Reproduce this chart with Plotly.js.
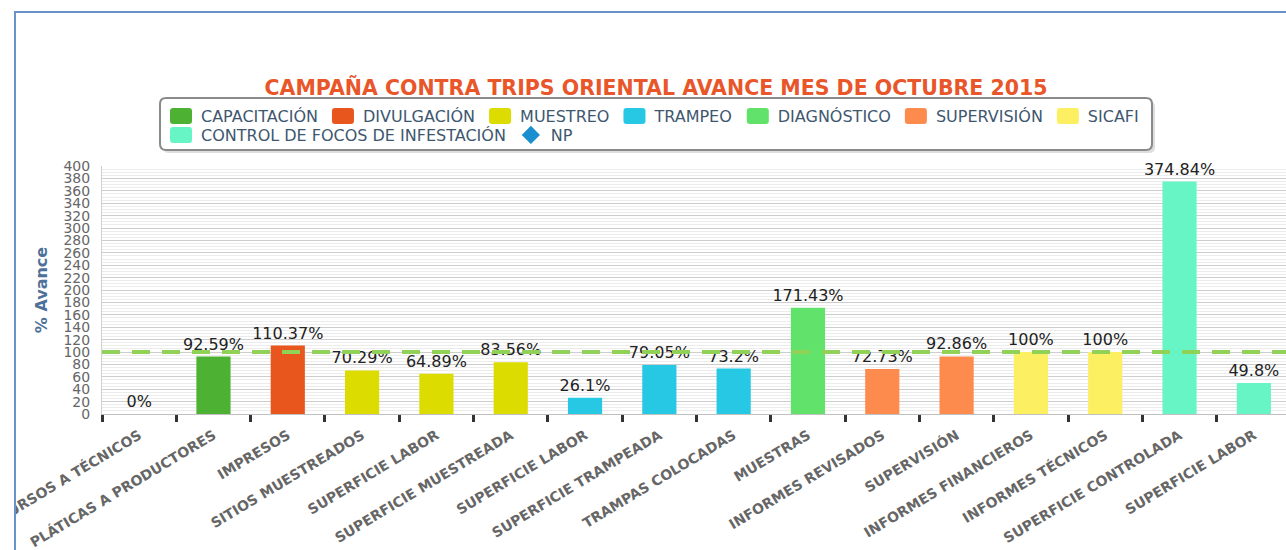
<!DOCTYPE html>
<html>
<head>
<meta charset="utf-8">
<script src="https://cdn.plot.ly/plotly-3.0.1.min.js"></script>
<style>
html, body { margin:0; padding:0; background:#fff; overflow:hidden; width:1286px; height:550px; }
#frame { position:absolute; left:14px; top:11px; width:1300px; height:560px; border-left:2px solid #6a93c8; border-top:2px solid #6a93c8; overflow:hidden; }
#chart { position:absolute; left:0; top:0; width:1280px; height:537px; }
#chart .legendpoints path:not(.scatterpts) { d: path('M-8,-8H8Q11,-8 11,-5V5Q11,8 8,8H-8Q-11,8 -11,5V-5Q-11,-8 -8,-8Z') !important; }
</style>
</head>
<body>
<div id="frame"><div id="chart"></div></div>
<script>
// ---- data ----
const categories = [
  "CURSOS A TÉCNICOS", "PLÁTICAS A PRODUCTORES", "IMPRESOS", "SITIOS MUESTREADOS",
  "SUPERFICIE LABOR", "SUPERFICIE MUESTREADA", "SUPERFICIE LABOR", "SUPERFICIE TRAMPEADA",
  "TRAMPAS COLOCADAS", "MUESTRAS", "INFORMES REVISADOS", "SUPERVISIÓN",
  "INFORMES FINANCIEROS", "INFORMES TÉCNICOS", "SUPERFICIE CONTROLADA", "SUPERFICIE LABOR"
];
const seriesNames = ["CAPACITACIÓN", "DIVULGACIÓN", "MUESTREO", "TRAMPEO", "DIAGNÓSTICO", "SUPERVISIÓN", "SICAFI", "CONTROL DE FOCOS DE INFESTACIÓN"];
const seriesColors = ["#4db234", "#e9561d", "#dcdc00", "#27c8e4", "#61e26b", "#fd8b4e", "#fcef61", "#68f5c5"];
// category index of each series' bars
const seriesCats = [[0, 1], [2], [3, 4, 5], [6, 7, 8], [9], [10, 11], [12, 13], [14, 15]];
const seriesValues = [
  [0, 92.59],
  [110.37],
  [70.29, 64.89, 83.56],
  [26.1, 79.05, 73.2],
  [171.43],
  [72.73, 92.86],
  [100, 100],
  [374.84, 49.8]
];
// legend row of each series (reference wraps after SICAFI)
const seriesLegendRow = ["legend", "legend", "legend", "legend", "legend", "legend", "legend", "legend2"];
const npName = "NP";
const npTarget = 100;
const yTicks = [0,20,40,60,80,100,120,140,160,180,200,220,240,260,280,300,320,340,360,380,400];

// ---- geometry helpers (pixels in the chart div) ----
const W = 1280, H = 537;
const M = { l: 86, r: 5, t: 153, b: 136 };
const plotW = W - M.l - M.r, plotH = H - M.t - M.b;
const px = x => (x - M.l) / plotW;
const py = y => (H - M.b - y) / plotH;
function roundRect(x0, y0, x1, y1, r) {
  return "M" + px(x0 + r) + "," + py(y0) +
    " L" + px(x1 - r) + "," + py(y0) +
    " Q" + px(x1) + "," + py(y0) + " " + px(x1) + "," + py(y0 + r) +
    " L" + px(x1) + "," + py(y1 - r) +
    " Q" + px(x1) + "," + py(y1) + " " + px(x1 - r) + "," + py(y1) +
    " L" + px(x0 + r) + "," + py(y1) +
    " Q" + px(x0) + "," + py(y1) + " " + px(x0) + "," + py(y1 - r) +
    " L" + px(x0) + "," + py(y0 + r) +
    " Q" + px(x0) + "," + py(y0) + " " + px(x0 + r) + "," + py(y0) + " Z";
}

// ---- traces ----
const traces = seriesNames.map((name, i) => ({
  type: "bar",
  name: name,
  legend: seriesLegendRow[i],
  x: seriesCats[i],
  y: seriesValues[i],
  width: 0.46,
  marker: { color: seriesColors[i] },
  text: seriesValues[i].map(v => v + "%"),
  textposition: "outside",
  constraintext: "none",
  cliponaxis: false,
  textfont: { family: "DejaVu Sans", size: 16, color: "#222" },
  hoverinfo: "skip"
}));
traces.push({
  type: "scatter",
  name: npName,
  legend: "legend2",
  x: [null],
  y: [null],
  mode: "markers",
  marker: { symbol: "diamond", color: "#1a8fd0", size: 14 },
  hoverinfo: "skip"
});

const legendStyle = {
  orientation: "h",
  xref: "container", xanchor: "left",
  yref: "container", yanchor: "top",
  bgcolor: "rgba(0,0,0,0)", borderwidth: 0,
  font: { family: "DejaVu Sans", size: 16, color: "#3e576f" },
  itemwidth: 30,
  traceorder: "normal"
};

const layout = {
  width: W,
  height: H,
  margin: { l: M.l, r: M.r, t: M.t, b: M.b, autoexpand: false },
  paper_bgcolor: "#fff",
  plot_bgcolor: "#fff",
  barmode: "overlay",
  showlegend: true,
  title: {
    text: "CAMPAÑA CONTRA TRIPS ORIENTAL AVANCE MES DE OCTUBRE 2015",
    font: { family: "DejaVu Sans", size: 20.5, color: "#e8562a", weight: "bold" },
    x: 0.5, xref: "container", xanchor: "center",
    y: 1 - 75 / H, yref: "container", yanchor: "middle"
  },
  legend: Object.assign({}, legendStyle, { x: 145 / W, y: 1 - 86 / H }),
  legend2: Object.assign({}, legendStyle, { x: 145 / W, y: 1 - 105 / H }),
  xaxis: {
    type: "linear",
    range: [-0.5, categories.length - 0.5],
    tickmode: "array",
    tickvals: categories.map((c, i) => i),
    ticktext: categories,
    ticks: "",
    tickangle: -31,
    ticklabelstandoff: 7,
    ticklabeloverflow: "allow",
    tickfont: { family: "DejaVu Sans", size: 14, color: "#666", weight: "bold" },
    showgrid: false,
    zeroline: false,
    showline: true,
    linecolor: "#c0c0c0",
    linewidth: 1,
    automargin: false,
    fixedrange: true,
    minor: { tickmode: "linear", tick0: -0.5, dtick: 1, ticks: "outside", ticklen: 7, tickwidth: 3, tickcolor: "#333", showgrid: false }
  },
  yaxis: {
    range: [0, 400],
    tickmode: "array",
    tickvals: yTicks,
    ticktext: yTicks.map(String),
    tickfont: { family: "DejaVu Sans", size: 14, color: "#666" },
    ticklabelstandoff: 8,
    showgrid: true,
    gridcolor: "#cdcdcd",
    gridwidth: 1,
    zeroline: false,
    showline: true,
    linecolor: "#d0d0d0",
    automargin: false,
    fixedrange: true,
    minor: { tickmode: "linear", tick0: 0, dtick: 5, showgrid: true, gridcolor: "#ececec", gridwidth: 1 },
    title: {
      text: "% Avance",
      standoff: 11,
      font: { family: "DejaVu Sans", size: 16, color: "#4d7198", weight: "bold" }
    }
  },
  shapes: [
    { type: "path", xref: "paper", yref: "paper", layer: "below",
      path: roundRect(147, 88, 1139, 140, 6),
      fillcolor: "rgba(0,0,0,0.13)", line: { width: 0 } },
    { type: "path", xref: "paper", yref: "paper", layer: "below",
      path: roundRect(144, 85, 1136, 137, 6),
      fillcolor: "#fff", line: { color: "#8a8a8a", width: 2 } },
    { type: "line", xref: "paper", x0: 0, x1: 1, yref: "y", y0: npTarget, y1: npTarget,
      line: { color: "#90d157", width: 4, dash: "18px,12px" }, layer: "above" }
  ]
};

Plotly.newPlot("chart", traces, layout, { staticPlot: true, displayModeBar: false });
</script>
</body>
</html>
